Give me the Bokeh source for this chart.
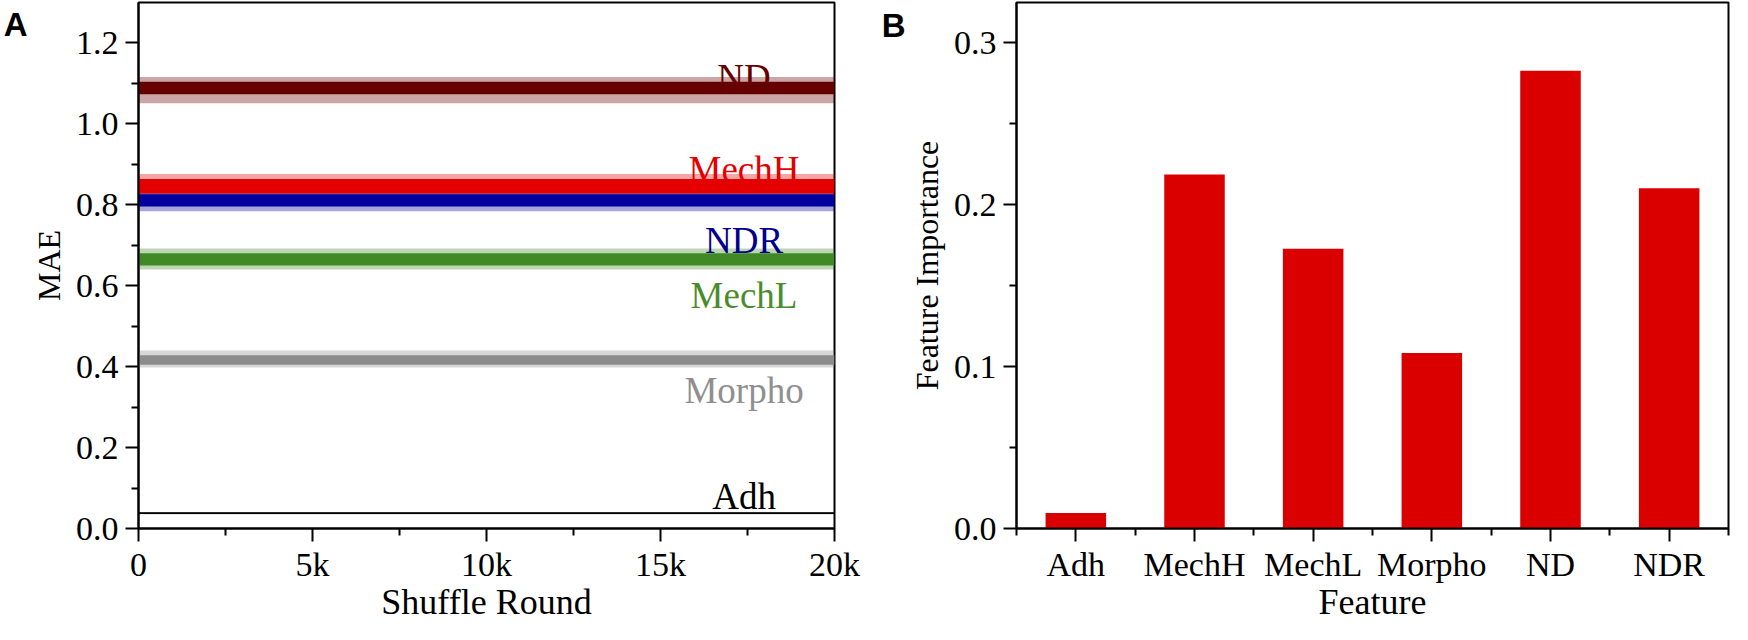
from bokeh.embed import file_html
from bokeh.layouts import row
from bokeh.models import ColumnDataSource, FixedTicker, Label, LinearAxis, Range1d
from bokeh.plotting import figure
from bokeh.resources import INLINE

# Panel A: MAE after each of 20k shuffle rounds, one band per feature
features = ["Adh", "MechH", "MechL", "Morpho", "ND", "NDR"]
shuffle_rounds = [0, 20000]
mae_min     = [0.035, 0.816, 0.640, 0.398, 1.051, 0.784]
mae_core_lo = [0.036, 0.828, 0.650, 0.405, 1.073, 0.796]
mae_core_hi = [0.040, 0.864, 0.680, 0.428, 1.104, 0.826]
mae_max     = [0.041, 0.876, 0.692, 0.440, 1.116, 0.834]
round_ticks = [0, 5000, 10000, 15000, 20000]
round_labels = ["0", "5k", "10k", "15k", "20k"]
mae_ticks = [0.0, 0.2, 0.4, 0.6, 0.8, 1.0, 1.2]

# Panel B: feature importance
importance = [0.0096, 0.2187, 0.1729, 0.1084, 0.2829, 0.2102]
importance_ticks = [0.0, 0.1, 0.2, 0.3]

series_colors = ["#000000", "#e50000", "#3f8a24", "#8c8c8c", "#660000", "#00009c"]
text_colors   = ["#000000", "#e50000", "#4a8c2c", "#8f8f8f", "#660000", "#00008b"]
bar_color = "#db0000"

SERIF = "Liberation Serif"


def style(p):
    p.grid.visible = False
    p.outline_line_color = "black"
    p.outline_line_width = 2
    p.outline_line_alpha = 1
    for ax in p.axis:
        ax.axis_line_width = 2
        ax.major_tick_line_width = 2
        ax.minor_tick_line_width = 2
        ax.major_tick_in = 0
        ax.major_tick_out = 13
        ax.minor_tick_in = 0
        ax.minor_tick_out = 7
        ax.major_label_text_font = SERIF
        ax.major_label_text_font_size = "34px"
        ax.major_label_text_color = "black"
        ax.axis_label_text_font = SERIF
        ax.axis_label_text_font_style = "normal"
        ax.axis_label_text_color = "black"
    p.xaxis.axis_label_text_font_size = "36px"
    p.yaxis.axis_label_text_font_size = "32px"
    p.xaxis.major_label_standoff = 4
    p.yaxis.major_label_standoff = 7
    p.xaxis.axis_label_standoff = -4
    p.yaxis.axis_label_standoff = 6


def panel_letter(p, letter, y):
    # bare outer axis on the left whose only tick label is the panel letter
    ax = LinearAxis(ticker=FixedTicker(ticks=[y]),
                    major_label_overrides={y: letter},
                    axis_line_color=None, major_tick_line_color=None,
                    minor_tick_line_color=None,
                    major_tick_in=0, major_tick_out=0,
                    minor_tick_in=0, minor_tick_out=0,
                    major_label_standoff=0,
                    major_label_text_font="Liberation Sans",
                    major_label_text_font_style="bold",
                    major_label_text_font_size="33px",
                    major_label_text_color="black")
    p.add_layout(ax, "left")


# ---- Panel A ----
pa = figure(width=864, height=624, output_backend="svg", toolbar_location=None,
            x_range=Range1d(0, 20000), y_range=Range1d(0, 1.3),
            min_border_left=115, min_border_right=30,
            min_border_top=2, min_border_bottom=80,
            x_axis_label="Shuffle Round", y_axis_label="MAE")

n = len(features)
src_a = ColumnDataSource(dict(
    left=[shuffle_rounds[0]] * n, right=[shuffle_rounds[-1]] * n,
    lo=mae_min, hi=mae_max, core_lo=mae_core_lo, core_hi=mae_core_hi,
    color=series_colors,
))
pa.quad(left="left", right="right", bottom="lo", top="hi", source=src_a,
        fill_color="color", fill_alpha=0.35, line_color=None)
pa.quad(left="left", right="right", bottom="core_lo", top="core_hi", source=src_a,
        fill_color="color", fill_alpha=1.0, line_color=None)

label_x = 17400
label_y = [0.079, 0.888, 0.576, 0.340, 1.115, 0.713]
for name, ly, col in zip(features, label_y, text_colors):
    pa.add_layout(Label(x=label_x, y=ly, text=name, text_font=SERIF,
                        text_font_size="37px", text_color=col,
                        text_align="center", text_baseline="alphabetic"))

pa.xaxis.ticker = FixedTicker(ticks=round_ticks,
                              minor_ticks=[2500, 7500, 12500, 17500])
pa.xaxis.major_label_overrides = dict(zip(round_ticks, round_labels))
pa.yaxis.ticker = FixedTicker(ticks=mae_ticks,
                              minor_ticks=[0.1, 0.3, 0.5, 0.7, 0.9, 1.1])
pa.yaxis.major_label_overrides = {t: f"{t:.1f}" for t in mae_ticks}
style(pa)
panel_letter(pa, "A", 1.246)

# ---- Panel B ----
pos = list(range(len(features)))
pb = figure(width=868, height=624, output_backend="svg", toolbar_location=None,
            x_range=Range1d(-0.5, len(features) - 0.5), y_range=Range1d(0, 0.325),
            min_border_left=152, min_border_right=4,
            min_border_top=2, min_border_bottom=80,
            x_axis_label="Feature", y_axis_label="Feature Importance")
pb.vbar(x=pos, top=importance, width=0.51, bottom=0,
        fill_color=bar_color, line_color=None)

pb.xaxis.ticker = FixedTicker(ticks=pos,
                              minor_ticks=[i - 0.5 for i in range(len(features) + 1)])
pb.xaxis.major_label_overrides = dict(zip(pos, features))
pb.yaxis.ticker = FixedTicker(ticks=importance_ticks,
                              minor_ticks=[0.05, 0.15, 0.25])
pb.yaxis.major_label_overrides = {t: f"{t:.1f}" for t in importance_ticks}
style(pb)
panel_letter(pb, "B", 0.311)

layout = row(pa, pb)
open("out.html", "w").write(file_html(layout, INLINE))
